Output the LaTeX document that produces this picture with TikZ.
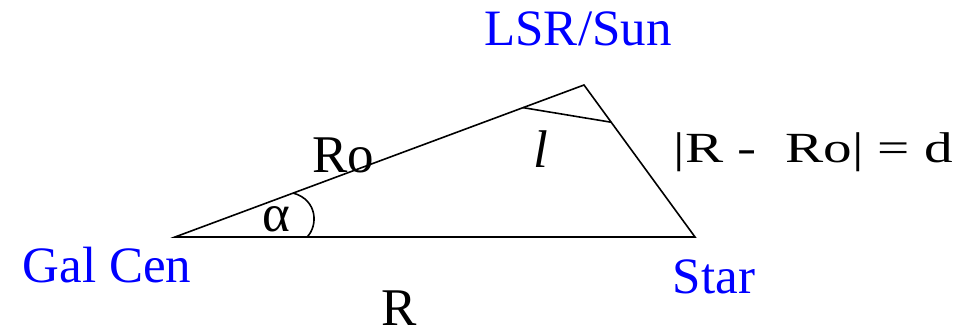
\documentclass[tikz,border=0pt]{standalone}
\usepackage{fontspec}
\setmainfont{Liberation Serif}
\usetikzlibrary{calc}
\definecolor{galblue}{RGB}{0,0,255}

\begin{document}
\begin{tikzpicture}[x=1pt, y=-1pt, line width=1.6pt,
  place/.style={text=galblue, inner sep=0pt, anchor=base,
    font=\fontsize{51}{60}\selectfont},
  side/.style={inner sep=0pt, anchor=base, font=\fontsize{53}{60}\selectfont}]
\useasboundingbox (0,0) rectangle (964,331);

% ---- Triangle corners ----
\coordinate (gc)   at (175,237);
\coordinate (sun)  at (584,85);
\coordinate (star) at (695,237);

% ---- Sides ----
\draw[line join=miter] (gc) -- (sun) -- (star) -- cycle;

% ---- Angle at Gal Cen (alpha) ----
\coordinate (a1) at ($(gc)!0.289!(sun)$);
\coordinate (a2) at ($(gc)!0.254!(star)$);
\draw (a1) .. controls (318,200) and (318,226) .. (a2);
\node[side] (alpha) at (276,232){α};

% ---- Angle at the Sun (l) ----
\coordinate (l1) at ($(gc)!0.851!(sun)$);
\coordinate (l2) at ($(sun)!0.245!(star)$);
\draw (l1) -- (l2);
\node[side, font=\fontsize{53}{60}\selectfont\itshape] (lon) at (541,168){l};

% ---- Corner labels ----
\node[place] (lsr)    at (578,46){LSR/Sun};
\node[place] (galcen) at (107,283){Gal Cen};
\node[place] (starlb) at (714,293){Star};

% ---- Side labels ----
\node[side] (ro) at (343,173){Ro};
\node[side] (rr) at (399,325){R};
\node[side, anchor=base west, font=\fontsize{43}{48}\selectfont] (dist) at (673,163)
  {\scalebox{1.33}[1]{|R -\ \ Ro| = d}};

\end{tikzpicture}
\end{document}
